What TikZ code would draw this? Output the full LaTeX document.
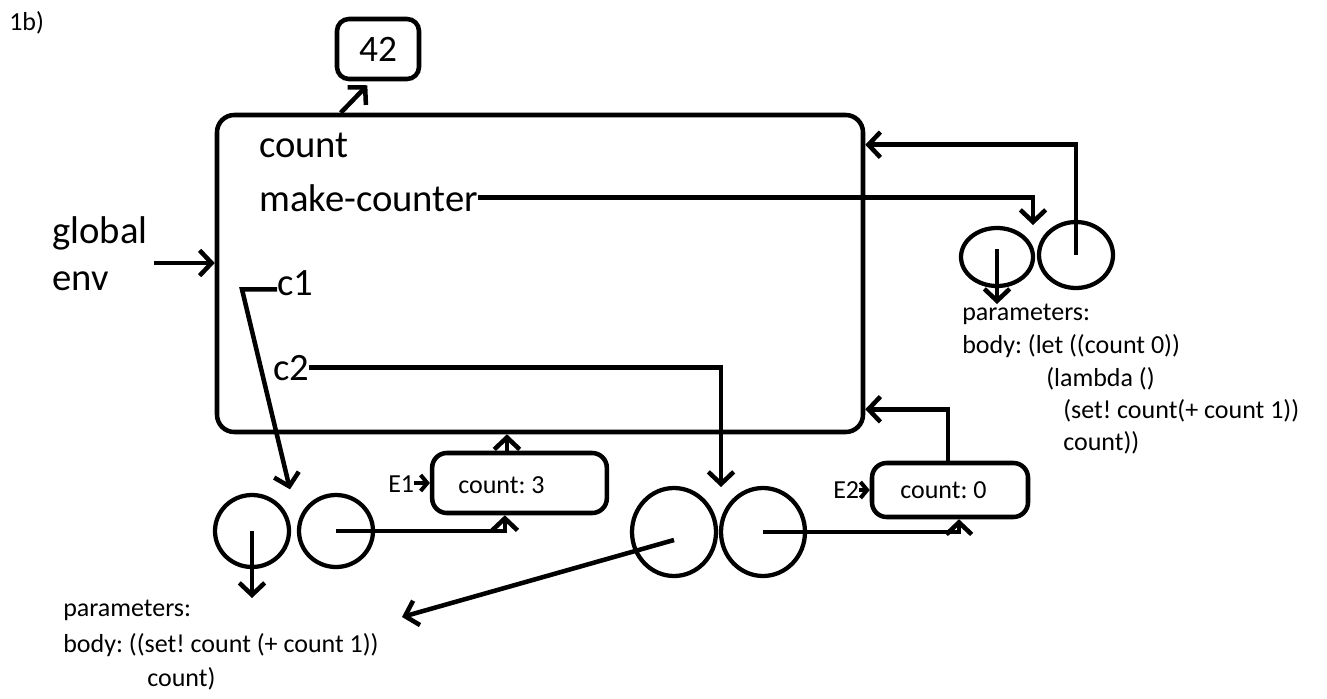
\documentclass[tikz,border=0pt]{standalone}
\usepackage{fontspec}
\setmainfont{Carlito}
\usetikzlibrary{arrows.meta,shapes.geometric}

\tikzset{
  arr/.style={line width=3.4pt, -{Straight Barb[length=9pt,width=19pt,line width=3.4pt]}},
  sarr/.style={line width=3pt, -{Straight Barb[length=5pt,width=12pt,line width=3pt]}},
  envbox/.style={draw, line width=3.4pt, rounded corners=11pt, inner sep=0pt},
  cell/.style={draw, ellipse, line width=3.2pt, inner sep=0pt},
  big/.style={inner sep=0pt, font=\fontsize{29}{35}\selectfont},
  small/.style={inner sep=0pt, font=\fontsize{19.5}{24}\selectfont},
}

\begin{document}
\frenchspacing
\begin{tikzpicture}[x=0.75pt, y=-0.75pt]

    % Fondo y margenes
    \fill[white] (0,0) rectangle (1327,699);
    \useasboundingbox (0,0) rectangle (1327,699);

    \node[small, anchor=base west] (lbl) at (9,31) {1b)};

    % Entorno global
    \node[envbox, rounded corners=13pt, minimum width=484.5pt,
      minimum height=237.75pt] (G) at (540,273.5) {};
    \node[big, anchor=base west] (cnt) at (259,157) {count};
    \node[big, anchor=base west] (mk) at (259,211) {make-counter};
    \node[big, anchor=base west] (c1) at (277,295) {c1};
    \node[big, anchor=base west] (c2) at (273,380) {c2};
    \node[big, anchor=base west] (glob) at (52,243) {global};
    \node[big, anchor=base west] (env) at (52,290) {env};
    \coordinate (gin) at (154,263);
    \draw[arr] (gin) -- (gin -| G.west);

    % Valor 42
    \node[envbox, rounded corners=9pt, minimum width=61.5pt, minimum height=45pt,
      font=\fontsize{28}{34}\selectfont] (v42) at (378,49) {42};
    \draw[arr] ([xshift=94.5pt]G.north west) -- ([xshift=-8pt,yshift=-3pt]v42.south);

    % Procedimiento make-counter
    \node[cell, minimum width=54pt, minimum height=43.5pt] (cl3) at (997,257) {};
    \node[cell, minimum width=55.5pt, minimum height=49.5pt] (cr3) at (1076,255) {};
    \coordinate (mkend) at (1033,225);
    \draw[arr] (mk.east) -| (mkend);
    \draw[arr] (cr3.center) |- ([yshift=-24pt]G.north east);
    \draw[arr] ([yshift=6pt]cl3.center) -- ++(0,55);
    \node[small, anchor=base west] (p3a) at (962,320) {parameters:};
    \node[small, anchor=base west] (p3b) at (962,353) {body: (let ((count 0))};
    \node[small, anchor=base west] (p3c) at (1046,386) {(lambda ()};
    \node[small, anchor=base west] (p3d) at (1063,418) {(set! count(+ count 1))};
    \node[small, anchor=base west] (p3e) at (1063,450) {count))};

    % Entorno E1 y procedimiento c1
    \node[envbox, minimum width=131pt, minimum height=45pt] (E1) at (519.5,483) {};
    \node[small, anchor=base west] (e1txt) at (458,493) {count: 3};
    \node[small, anchor=base west] (e1lab) at (388,492) {E1};
    \draw[sarr] (E1.west -| e1lab.east) -- (E1.west);
    \draw[arr] ([xshift=-9.4pt]E1.north) -- ([xshift=-9.4pt]E1.north |- G.south);

    \node[cell, minimum width=55.5pt, minimum height=54pt] (cl1) at (252,531) {};
    \node[cell, minimum width=55.5pt, minimum height=54pt] (cr1) at (336,531) {};
    \draw[arr] ([yshift=-5pt]c1.west) -- ++(-35,0) -- ++(48,200);
    \draw[arr] (cl1.center) -- ++(0,67);
    \draw[arr] (cr1.center) -| ([xshift=-11pt]E1.south);
    \node[small, anchor=base west] (p1a) at (63,616) {parameters:};
    \node[small, anchor=base west] (p1b) at (63,652) {body: ((set! count (+ count 1))};
    \node[small, anchor=base west] (p1c) at (147,686) {count)};

    % Entorno E2 y procedimiento c2
    \node[envbox, minimum width=117pt, minimum height=40.5pt] (E2) at (950,490) {};
    \node[small, anchor=base west] (e2txt) at (900,498) {count: 0};
    \node[small, anchor=base west] (e2lab) at (833,498) {E2};
    \draw[sarr] (E2.west -| e2lab.east) -- (E2.west);
    \draw[arr] ([xshift=-1.5pt]E2.north) |- ([yshift=18.75pt]G.south east);

    \node[cell, minimum width=63pt, minimum height=66pt] (cl2) at (674,532) {};
    \node[cell, minimum width=63pt, minimum height=66pt] (cr2) at (763,532) {};
    \coordinate (c2end) at (721,487);
    \coordinate (bodyend) at (402,617);
    \draw[arr] (c2.east) -| (c2end);
    \draw[arr] ([yshift=-6pt]cl2.center) -- (bodyend);
    \draw[arr] (cr2.center) -| ([xshift=6.75pt]E2.south);

  \end{tikzpicture}
\end{document}
